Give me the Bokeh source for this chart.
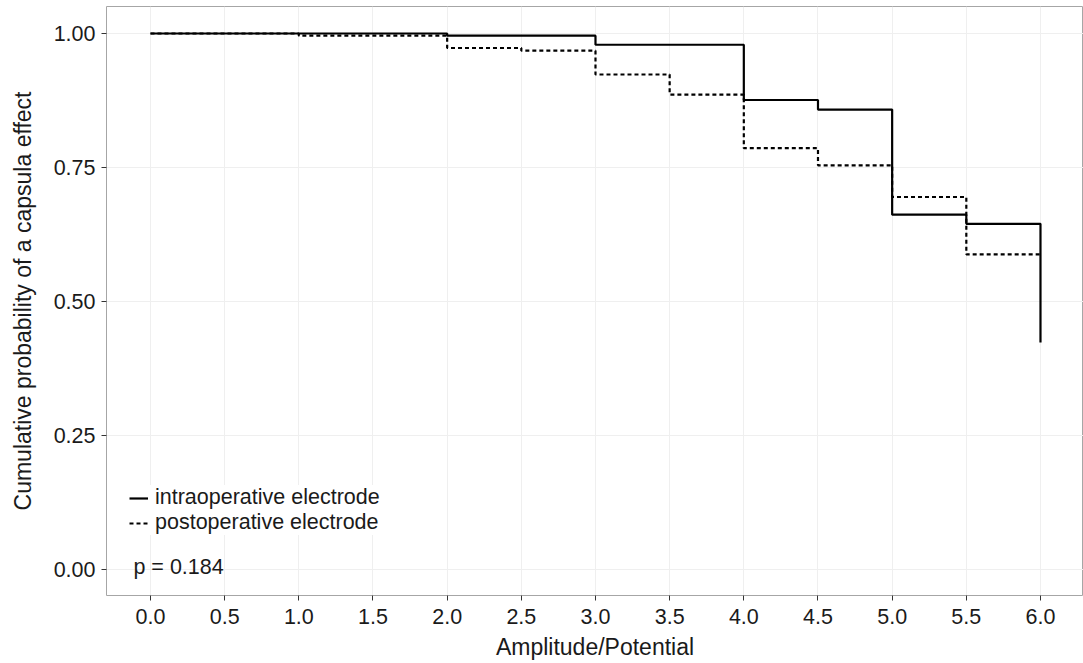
from bokeh.plotting import figure
from bokeh.models import Range1d, FixedTicker, NumeralTickFormatter, Legend, LegendItem
from bokeh.core.properties import value
from bokeh.embed import file_html
from bokeh.resources import INLINE

# Data
intra_x = [0.0, 2.0, 3.0, 4.0, 4.5, 5.0, 5.5, 6.0]
intra_y = [1.0, 0.996, 0.979, 0.876, 0.858, 0.662, 0.645, 0.4235]
post_x = [0.0, 1.0, 2.0, 2.5, 3.0, 3.5, 4.0, 4.5, 5.0, 5.5, 6.0]
post_y = [1.0, 0.996, 0.973, 0.968, 0.9235, 0.886, 0.786, 0.754, 0.695, 0.588, 0.588]
x_ticks = [0.0, 0.5, 1.0, 1.5, 2.0, 2.5, 3.0, 3.5, 4.0, 4.5, 5.0, 5.5, 6.0]
y_ticks = [0.0, 0.25, 0.5, 0.75, 1.0]
series_labels = ["intraoperative electrode", "postoperative electrode"]
p_value_text = "p = 0.184"

FONT = "Liberation Sans"
TXT = "#1a1a1a"

p = figure(width=1083, height=663, output_backend="svg", toolbar_location=None,
           x_range=Range1d(-0.2966, 6.29), y_range=Range1d(-0.0485, 1.0504),
           min_border_left=106, min_border_right=0, min_border_top=6, min_border_bottom=68)

p.background_fill_color = "white"
p.border_fill_color = "white"
p.outline_line_color = "#a6a6a6"
p.outline_line_width = 1

for ax in (p.xaxis[0], p.yaxis[0]):
    ax.axis_line_color = None
    ax.major_tick_line_color = "#333333"
    ax.major_tick_out = 5
    ax.major_tick_in = 0
    ax.minor_tick_line_color = None
    ax.major_label_text_font = FONT
    ax.major_label_text_font_size = "21.5px"
    ax.major_label_text_color = TXT
    ax.axis_label_text_font = FONT
    ax.axis_label_text_font_size = "23px"
    ax.axis_label_text_font_style = "normal"
    ax.axis_label_text_color = TXT
    ax.major_label_standoff = 6

p.xaxis.ticker = FixedTicker(ticks=x_ticks)
p.xaxis.formatter = NumeralTickFormatter(format="0.0")
p.xaxis.axis_label = "Amplitude/Potential"
p.xaxis.major_label_standoff = 8
p.xaxis.axis_label_standoff = 7

p.yaxis.ticker = FixedTicker(ticks=y_ticks)
p.yaxis.formatter = NumeralTickFormatter(format="0.00")
p.yaxis.axis_label = "Cumulative probability of a capsula effect"
p.yaxis.axis_label_standoff = 15

p.xgrid.grid_line_color = "#efefef"
p.ygrid.grid_line_color = "#efefef"
p.xgrid.ticker = FixedTicker(ticks=x_ticks)
p.ygrid.ticker = FixedTicker(ticks=y_ticks)

r_post = p.step(post_x, post_y, mode="after", line_color="black", line_width=2.2, line_dash="4 3")
r_intra = p.step(intra_x, intra_y, mode="after", line_color="black", line_width=2.2)

p.text(x=[-0.115], y=[0.005], text=[p_value_text], text_font=value(FONT), text_font_size="21.5px",
       text_color=TXT, text_baseline="middle", text_align="left")

legend = Legend(items=[LegendItem(label=series_labels[0], renderers=[r_intra]),
                       LegendItem(label=series_labels[1], renderers=[r_post])],
                location=(23, 60))
legend.label_text_font = FONT
legend.label_text_font_size = "21.5px"
legend.label_text_color = TXT
legend.glyph_width = 19
legend.glyph_height = 22
legend.label_height = 22
legend.label_standoff = 7
legend.spacing = 0
legend.padding = 2
legend.margin = 0
legend.border_line_color = None
legend.background_fill_color = "white"
legend.background_fill_alpha = 1.0
p.add_layout(legend)

open("out.html", "w").write(file_html(p, INLINE))
